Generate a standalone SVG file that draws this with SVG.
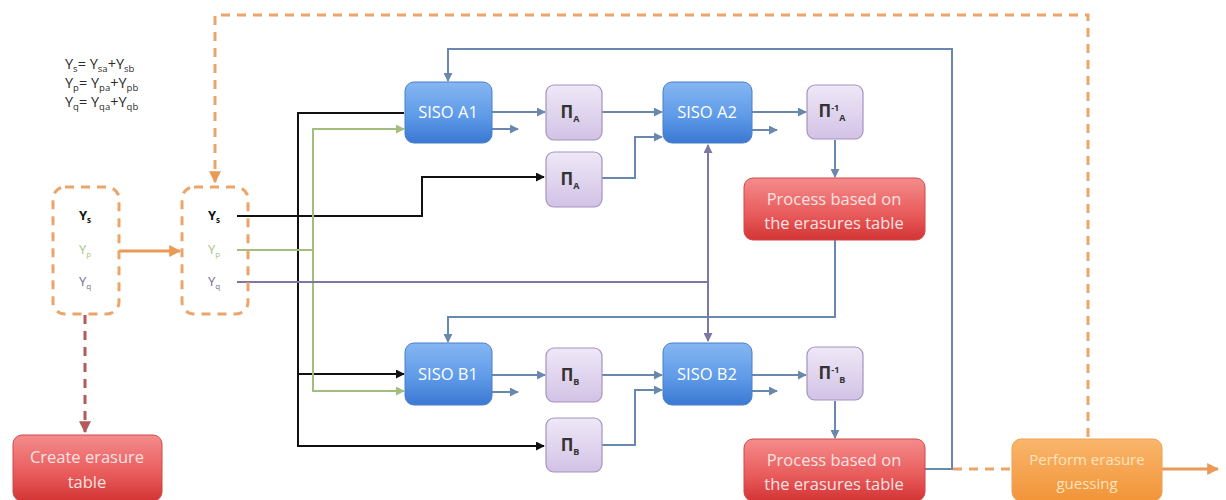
<svg xmlns="http://www.w3.org/2000/svg" width="1226" height="500" viewBox="0 0 1226 500">
  <defs>
    <linearGradient id="gBlue" x1="0" y1="0" x2="0" y2="1">
      <stop offset="0" stop-color="#86b6f2"/>
      <stop offset="0.55" stop-color="#5f9be8"/>
      <stop offset="1" stop-color="#3a78d2"/>
    </linearGradient>
    <linearGradient id="gPurple" x1="0" y1="0" x2="0" y2="1">
      <stop offset="0" stop-color="#efe8f7"/>
      <stop offset="1" stop-color="#d2c2e6"/>
    </linearGradient>
    <linearGradient id="gRed" x1="0" y1="0" x2="0" y2="1">
      <stop offset="0" stop-color="#f58c8c"/>
      <stop offset="0.6" stop-color="#e85a5a"/>
      <stop offset="1" stop-color="#d33434"/>
    </linearGradient>
    <linearGradient id="gOrange" x1="0" y1="0" x2="0" y2="1">
      <stop offset="0" stop-color="#f9b66c"/>
      <stop offset="1" stop-color="#f29438"/>
    </linearGradient>
    <marker id="aBlue" viewBox="0 0 10 10" refX="9" refY="5" markerWidth="4.5" markerHeight="4.5" orient="auto-start-reverse">
      <path d="M0,0 L10,5 L0,10 z" fill="#6a88ad"/>
    </marker>
    <marker id="aBlack" viewBox="0 0 10 10" refX="9" refY="5" markerWidth="4.5" markerHeight="4.5" orient="auto">
      <path d="M0,0 L10,5 L0,10 z" fill="#111"/>
    </marker>
    <marker id="aGreen" viewBox="0 0 10 10" refX="9" refY="5" markerWidth="4.5" markerHeight="4.5" orient="auto">
      <path d="M0,0 L10,5 L0,10 z" fill="#a3bd7e"/>
    </marker>
    <marker id="aPurple" viewBox="0 0 10 10" refX="9" refY="5" markerWidth="4.5" markerHeight="4.5" orient="auto">
      <path d="M0,0 L10,5 L0,10 z" fill="#7f76a3"/>
    </marker>
    <marker id="aOrange" viewBox="0 0 10 10" refX="9" refY="5" markerWidth="4" markerHeight="4" orient="auto">
      <path d="M0,0 L10,5 L0,10 z" fill="#e99a55"/>
    </marker>
    <marker id="aRed" viewBox="0 0 10 10" refX="9" refY="5" markerWidth="4" markerHeight="4" orient="auto">
      <path d="M0,0 L10,5 L0,10 z" fill="#b35a5a"/>
    </marker>
  </defs>
  <style>
    text { font-family: "Open Sans", "Liberation Sans", sans-serif; }
    .siso { fill: url(#gBlue); stroke: #4a7fc8; stroke-width: 1; }
    .pi { fill: url(#gPurple); stroke: #a493bf; stroke-width: 1.2; }
    .proc { fill: url(#gRed); stroke: #d04848; stroke-width: 1; }
    .guess { fill: url(#gOrange); stroke: #f0a050; stroke-width: 1; }
    .holder { fill: none; stroke: #eba56a; stroke-width: 3; stroke-dasharray: 9 7; }
    .lblW { fill: #ffffff; font-size: 16.5px; text-anchor: middle; }
    .lblP { fill: #f9e2e2; font-size: 16.5px; text-anchor: middle; }
    .lblO { fill: #fde3bd; font-size: 15px; text-anchor: middle; }
    .piT { fill: #333; font-size: 17px; font-weight: bold; text-anchor: middle; }
    .eq { fill: #2a2a2a; font-size: 14.5px; font-family: "Liberation Sans", sans-serif; }
    .y { font-size: 13px; text-anchor: middle; }
    .cBlue { fill: none; stroke: #6a88ad; stroke-width: 2; }
    .cBlack { fill: none; stroke: #111; stroke-width: 2; }
    .cGreen { fill: none; stroke: #a3bd7e; stroke-width: 2; }
    .cPurple { fill: none; stroke: #7f76a3; stroke-width: 2; }
    .cOrange { fill: none; stroke: #e99a55; stroke-width: 3; }
    .cOrangeD { fill: none; stroke: #eba56a; stroke-width: 3; stroke-dasharray: 9 7; }
    .cRedD { fill: none; stroke: #b35a5a; stroke-width: 3; stroke-dasharray: 9 7; }
  </style>
  <rect width="1226" height="500" fill="#ffffff"/>

  <!-- signal decomposition -->
  <g id="equations" class="eq">
    <text x="65" y="69">Y<tspan dy="3" font-size="9.5">s</tspan><tspan dy="-3">= Y</tspan><tspan dy="3" font-size="9.5">sa</tspan><tspan dy="-3">+Y</tspan><tspan dy="3" font-size="9.5">sb</tspan></text>
    <text x="65" y="88">Y<tspan dy="3" font-size="9.5">p</tspan><tspan dy="-3">= Y</tspan><tspan dy="3" font-size="9.5">pa</tspan><tspan dy="-3">+Y</tspan><tspan dy="3" font-size="9.5">pb</tspan></text>
    <text x="65" y="107">Y<tspan dy="3" font-size="9.5">q</tspan><tspan dy="-3">= Y</tspan><tspan dy="3" font-size="9.5">qa</tspan><tspan dy="-3">+Y</tspan><tspan dy="3" font-size="9.5">qb</tspan></text>
  </g>

  <!-- connectors -->
  <g id="connectors">
    <!-- outer orange feedback loop -->
    <path class="cOrangeD" d="M1088,437 V15 H215 V182" marker-end="url(#aOrange)"/>
    <path class="cOrangeD" d="M953,469 H1012"/>
    <path class="cOrange" d="M1162,469 H1218" marker-end="url(#aOrange)"/>
    <path class="cOrange" d="M119,251 H180" marker-end="url(#aOrange)"/>
    <path class="cRedD" d="M85,315 V432" marker-end="url(#aRed)"/>

    <!-- systematic (black) -->
    <path class="cBlack" d="M237,216 H422 V177 H544" marker-end="url(#aBlack)"/>
    <path class="cBlack" d="M404,113 H298 V446 H544" marker-end="url(#aBlack)"/>
    <path class="cBlack" d="M298,374 H404" marker-end="url(#aBlack)"/>
    <!-- parity p (green) -->
    <path class="cGreen" d="M237,250 H313"/>
    <path class="cGreen" d="M404,129 H313 V391 H404" marker-end="url(#aGreen)"/>
    <path class="cGreen" d="M313,129 H404" marker-end="url(#aGreen)"/>
    <!-- parity q (purple) -->
    <path class="cPurple" d="M237,282 H708"/>
    <path class="cPurple" d="M708,282 V145" marker-end="url(#aPurple)"/>
    <path class="cPurple" d="M708,282 V341" marker-end="url(#aPurple)"/>

    <!-- decoder A chain -->
    <path class="cBlue" d="M492,112 H545" marker-end="url(#aBlue)"/>
    <path class="cBlue" d="M492,129 H518" marker-end="url(#aBlue)"/>
    <path class="cBlue" d="M602,112 H662" marker-end="url(#aBlue)"/>
    <path class="cBlue" d="M602,178 H635 V137 H662" marker-end="url(#aBlue)"/>
    <path class="cBlue" d="M752,112 H806" marker-end="url(#aBlue)"/>
    <path class="cBlue" d="M752,130 H777" marker-end="url(#aBlue)"/>
    <path class="cBlue" d="M835,140 V177" marker-end="url(#aBlue)"/>
    <path class="cBlue" d="M835,240 V317 H448 V342" marker-end="url(#aBlue)"/>

    <!-- decoder B chain -->
    <path class="cBlue" d="M492,375 H545" marker-end="url(#aBlue)"/>
    <path class="cBlue" d="M492,392 H518" marker-end="url(#aBlue)"/>
    <path class="cBlue" d="M602,375 H662" marker-end="url(#aBlue)"/>
    <path class="cBlue" d="M602,445 H635 V390 H662" marker-end="url(#aBlue)"/>
    <path class="cBlue" d="M752,375 H806" marker-end="url(#aBlue)"/>
    <path class="cBlue" d="M752,391 H777" marker-end="url(#aBlue)"/>
    <path class="cBlue" d="M835,401 V438" marker-end="url(#aBlue)"/>
    <path class="cBlue" d="M925,469 H952 V49 H448 V81" marker-end="url(#aBlue)"/>
  </g>

  <!-- received word holders -->
  <g id="holder-received">
    <rect class="holder" x="53" y="187" width="66" height="127" rx="12"/>
    <text class="y" x="85" y="220" fill="#111" font-weight="bold">Y<tspan dy="3" font-size="8">s</tspan></text>
    <text class="y" x="85" y="254" fill="#a9c384">Y<tspan dy="3" font-size="8">p</tspan></text>
    <text class="y" x="85" y="286" fill="#6f6c98">Y<tspan dy="3" font-size="8">q</tspan></text>
  </g>
  <g id="holder-updated">
    <rect class="holder" x="182" y="187" width="66" height="127" rx="12"/>
    <text class="y" x="214" y="220" fill="#111" font-weight="bold">Y<tspan dy="3" font-size="8">s</tspan></text>
    <text class="y" x="214" y="254" fill="#a9c384">Y<tspan dy="3" font-size="8">p</tspan></text>
    <text class="y" x="214" y="286" fill="#6f6c98">Y<tspan dy="3" font-size="8">q</tspan></text>
  </g>

  <g id="create-table">
    <rect class="proc" x="13" y="435" width="149" height="66" rx="9"/>
    <text class="lblP" x="87" y="463">Create erasure</text>
    <text class="lblP" x="87" y="488">table</text>
  </g>

  <!-- decoder A -->
  <g id="siso-a1">
    <rect class="siso" x="405" y="82" width="87" height="61" rx="9"/>
    <text class="lblW" x="448" y="118">SISO A1</text>
  </g>
  <g id="pi-a-1">
    <rect class="pi" x="546" y="85" width="56" height="55" rx="8"/>
    <text class="piT" x="570" y="118">Π<tspan dy="4" font-size="9">A</tspan></text>
  </g>
  <g id="pi-a-2">
    <rect class="pi" x="546" y="152" width="56" height="55" rx="8"/>
    <text class="piT" x="570" y="185">Π<tspan dy="4" font-size="9">A</tspan></text>
  </g>
  <g id="siso-a2">
    <rect class="siso" x="663" y="82" width="89" height="61" rx="9"/>
    <text class="lblW" x="707" y="118">SISO A2</text>
  </g>
  <g id="deinterleave-a">
    <rect class="pi" x="807" y="85" width="56" height="54" rx="8"/>
    <text class="piT" x="832" y="117">Π<tspan dy="-6" font-size="9">-1</tspan><tspan dy="10" font-size="9">A</tspan></text>
  </g>
  <g id="process-a">
    <rect class="proc" x="744" y="178" width="181" height="62" rx="9"/>
    <text class="lblP" x="834" y="205">Process based on</text>
    <text class="lblP" x="834" y="229">the erasures table</text>
  </g>

  <!-- decoder B -->
  <g id="siso-b1">
    <rect class="siso" x="405" y="343" width="87" height="62" rx="9"/>
    <text class="lblW" x="448" y="380">SISO B1</text>
  </g>
  <g id="pi-b-1">
    <rect class="pi" x="546" y="348" width="56" height="54" rx="8"/>
    <text class="piT" x="570" y="381">Π<tspan dy="4" font-size="9">B</tspan></text>
  </g>
  <g id="pi-b-2">
    <rect class="pi" x="546" y="418" width="56" height="54" rx="8"/>
    <text class="piT" x="570" y="451">Π<tspan dy="4" font-size="9">B</tspan></text>
  </g>
  <g id="siso-b2">
    <rect class="siso" x="663" y="343" width="89" height="62" rx="9"/>
    <text class="lblW" x="707" y="380">SISO B2</text>
  </g>
  <g id="deinterleave-b">
    <rect class="pi" x="807" y="347" width="56" height="53" rx="8"/>
    <text class="piT" x="832" y="379">Π<tspan dy="-6" font-size="9">-1</tspan><tspan dy="10" font-size="9">B</tspan></text>
  </g>
  <g id="process-b">
    <rect class="proc" x="744" y="439" width="181" height="62" rx="9"/>
    <text class="lblP" x="834" y="466">Process based on</text>
    <text class="lblP" x="834" y="490">the erasures table</text>
  </g>

  <g id="erasure-guessing">
    <rect class="guess" x="1012" y="439" width="150" height="62" rx="9"/>
    <text class="lblO" x="1087" y="465">Perform erasure</text>
    <text class="lblO" x="1087" y="489">guessing</text>
  </g>
</svg>
